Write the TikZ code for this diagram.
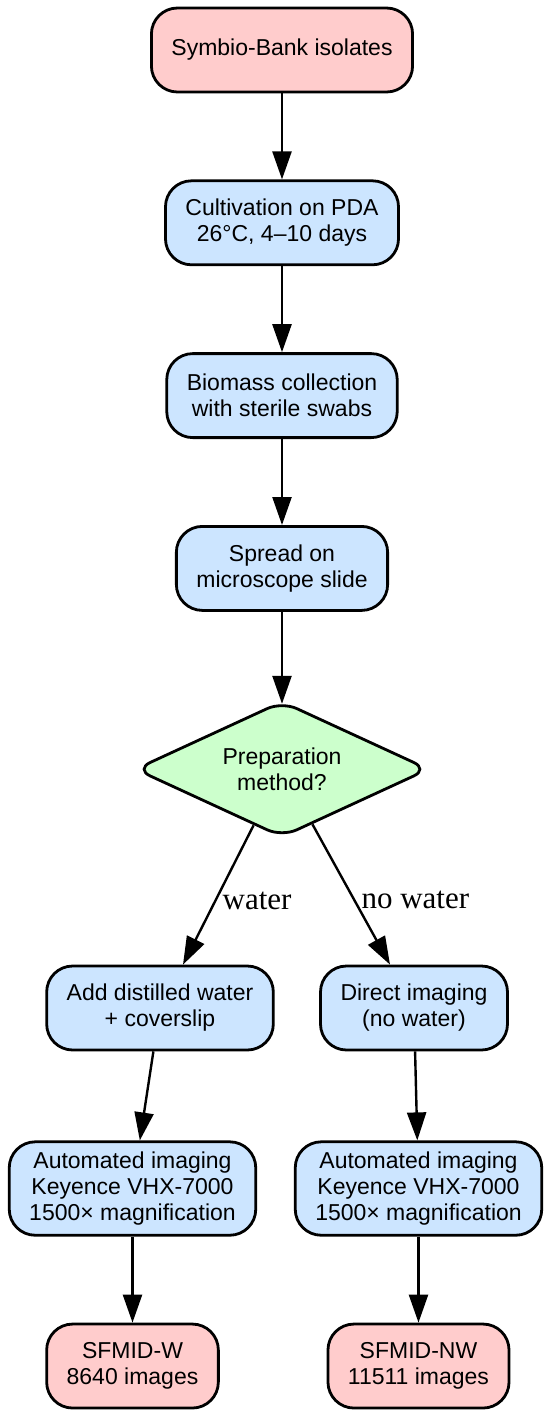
\documentclass[tikz,border=0pt]{standalone}
\usepackage{fontspec}
\setmainfont{Liberation Sans}
\newfontfamily\labelserif{Liberation Serif}
\usetikzlibrary{arrows.meta,positioning,shapes.geometric}

\definecolor{termpink}{HTML}{FFCCCC}
\definecolor{procblue}{HTML}{CCE5FF}
\definecolor{decgreen}{HTML}{CCFFCC}

\begin{document}
\begin{tikzpicture}[
    node distance=43pt,
    proc/.style={rectangle, rounded corners=13pt, draw=black, line width=1.4pt,
                 fill=procblue, minimum height=42pt, inner xsep=10pt, inner ysep=5pt,
                 align=center, font=\fontsize{11.5pt}{13pt}\selectfont},
    term/.style={proc, fill=termpink},
    decide/.style={diamond, aspect=2, draw=black, line width=1.4pt, fill=decgreen,
                   rounded corners=8pt, minimum width=147pt, minimum height=68pt,
                   inner sep=0pt, align=center, font=\fontsize{11.5pt}{13pt}\selectfont},
    arr/.style={-{Triangle[length=14pt, width=9.5pt]}, line width=1.2pt, draw=black},
    lbl/.style={font=\labelserif\fontsize{15.5pt}{18pt}\selectfont, inner sep=3pt}
]
    \useasboundingbox (0,0) rectangle (275pt,-705pt);

    \node[term] (isolates) at (141pt,-25pt) {Symbio-Bank isolates};
    \node[proc, below=of isolates] (cultivation) {Cultivation on PDA\\26°C, 4–10 days};
    \node[proc, below=of cultivation] (biomass) {Biomass collection\\with sterile swabs};
    \node[proc, below=of biomass] (slide) {Spread on\\microscope slide};
    \node[decide, below=44pt of slide] (prep) {Preparation\\method?};

    \node[proc, below=63pt of prep, xshift=-61pt] (addwater) {Add distilled water\\+ coverslip};
    \node[proc, below=63pt of prep, xshift=66pt] (direct) {Direct imaging\\(no water)};

    \node[proc, below=44.5pt of addwater, xshift=-13.75pt] (imgw) {Automated imaging\\Keyence VHX-7000\\1500× magnification};
    \node[proc, below=44.5pt of direct, xshift=2.25pt] (imgnw) {Automated imaging\\Keyence VHX-7000\\1500× magnification};

    \node[term, below=of imgw] (sfmidw) {SFMID-W\\8640 images};
    \node[term, below=of imgnw] (sfmidnw) {SFMID-NW\\11511 images};

    \draw[arr] (isolates) -- (cultivation);
    \draw[arr] (cultivation) -- (biomass);
    \draw[arr] (biomass) -- (slide);
    \draw[arr, shorten >=-2pt] (slide) -- (prep);
    \draw[arr] (prep) -- ([xshift=11.5pt]addwater.north) node[lbl, pos=0.54, right] {water};
    \draw[arr] (prep) -- ([xshift=-12pt]direct.north) node[lbl, pos=0.54, right] {no water};
    \draw[arr] (addwater) -- (imgw);
    \draw[arr] (direct) -- (imgnw);
    \draw[arr] (imgw) -- (sfmidw);
    \draw[arr] (imgnw) -- (sfmidnw);
\end{tikzpicture}
\end{document}
